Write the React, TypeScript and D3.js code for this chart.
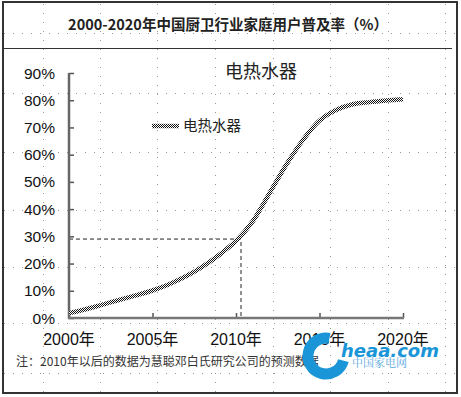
import { useEffect, useRef } from 'react'
import * as d3 from 'd3'

const years = [2000, 2001, 2002, 2003, 2004, 2005, 2006, 2007, 2008, 2009, 2010, 2011, 2012, 2013, 2014, 2015, 2016, 2017, 2018, 2019, 2020]
const penetration = [1.8, 3.2, 4.9, 6.6, 8.3, 10.1, 12.4, 15.3, 18.9, 23.2, 28.3, 35.5, 45.8, 56.2, 65.3, 72.5, 76.4, 78.5, 79.3, 79.9, 80.4]
const yTicks = [0, 10, 20, 30, 40, 50, 60, 70, 80, 90]
const xTicks = [2000, 2005, 2010, 2015, 2020]
const marker = { year: 2010.3, value: 29 }
const seriesName = '电热水器'
const title = '2000-2020年中国厨卫行业家庭用户普及率（%）'
const note = '注：2010年以后的数据为慧聪邓白氏研究公司的预测数据'

// excel sheet gridlines showing through the image
const sheetCols = [43, 100, 157, 215, 273, 330, 388, 445]
const sheetRows = [33, 93, 152, 210, 267, 323, 373]

const W = 461
const H = 397
const FONT = '"Liberation Sans", Arial, "Noto Sans CJK SC", sans-serif'
const CJK = '"Noto Sans CJK SC", sans-serif'

export default function App() {
  const svgRef = useRef<SVGSVGElement>(null)

  useEffect(() => {
    document.body.style.margin = '0'
    const svg = d3.select(svgRef.current!)
    svg.selectAll('*').remove()

    const x = d3.scaleLinear().domain([2000, 2020]).range([69, 403])
    const y = d3.scaleLinear().domain([0, 90]).range([318, 73])

    svg.append('rect').attr('width', W).attr('height', H).style('fill', '#fff')

    // hatch pattern for the series line
    const defs = svg.append('defs')
    const pat = defs.append('pattern')
      .attr('id', 'hatch').attr('width', 2).attr('height', 2)
      .attr('patternUnits', 'userSpaceOnUse')
    pat.append('rect').attr('width', 2).attr('height', 2).style('fill', '#fff')
    pat.append('rect').attr('width', 1).attr('height', 1).style('fill', '#111')
    pat.append('rect').attr('x', 1).attr('y', 1).attr('width', 1).attr('height', 1).style('fill', '#111')

    // sheet dots
    const dots = svg.append('g').style('stroke', '#9a9a9a').style('stroke-width', 1).style('stroke-dasharray', '1 8')
    sheetCols.forEach(c => dots.append('line').attr('x1', c + 0.5).attr('x2', c + 0.5).attr('y1', 4).attr('y2', 392))
    sheetRows.forEach(r => dots.append('line').attr('x1', 4).attr('x2', 456).attr('y1', r + 0.5).attr('y2', r + 0.5))

    // frame
    svg.append('rect').attr('x', 3).attr('y', 2).attr('width', 454).attr('height', 391)
      .style('fill', 'none').style('stroke', '#333').style('stroke-width', 2)
    svg.append('line').attr('x1', 3).attr('x2', 452).attr('y1', 48.5).attr('y2', 48.5)
      .style('stroke', '#333').style('stroke-width', 1)

    svg.append('text').attr('x', 228).attr('y', 30).attr('text-anchor', 'middle')
      .style('font-family', CJK).style('font-weight', 'bold').style('font-size', '14.5px').style('fill', '#222')
      .text(title)

    // dashed marker
    const mx = x(marker.year)
    const my = y(marker.value)
    svg.append('path').attr('d', `M${x(2000)},${my}H${mx}V${y(0)}`)
      .style('fill', 'none').style('stroke', '#222').style('stroke-width', 1).style('stroke-dasharray', '4 3')

    // axes
    const yAxis = svg.append('g').attr('transform', `translate(${x(2000)},0)`)
      .call(d3.axisRight(y).tickValues(yTicks).tickSize(5).tickFormat(() => ''))
    const xAxis = svg.append('g').attr('transform', `translate(0,${y(0)})`)
      .call(d3.axisTop(x).tickValues(xTicks).tickSize(5).tickFormat(() => ''))
    ;[yAxis, xAxis].forEach(a => {
      a.select('.domain').remove()
      a.selectAll('.tick line').style('stroke', '#555').style('stroke-width', 1.5)
    })
    svg.append('line').attr('x1', x(2000)).attr('x2', x(2000)).attr('y1', y(90)).attr('y2', y(0) + 1)
      .style('stroke', '#666').style('stroke-width', 2.5)
    svg.append('line').attr('x1', x(2000) - 1).attr('x2', x(2020) + 1).attr('y1', y(0)).attr('y2', y(0))
      .style('stroke', '#777').style('stroke-width', 2.5)

    svg.append('g').selectAll('text').data(yTicks).join('text')
      .attr('x', 55).attr('y', d => y(d) + 5.5).attr('text-anchor', 'end')
      .style('font-family', FONT).style('font-size', '15.5px').style('fill', '#111')
      .text(d => `${d}%`)
    svg.append('g').selectAll('text').data(xTicks).join('text')
      .attr('x', d => x(d)).attr('y', 345).attr('text-anchor', 'middle')
      .style('font-family', FONT).style('font-size', '16px').style('fill', '#111')
      .text(d => `${d}年`)

    // series
    const pts = years.map((yr, i) => [yr, penetration[i]] as [number, number])
    const line = d3.line<[number, number]>().x(d => x(d[0])).y(d => y(d[1])).curve(d3.curveCatmullRom.alpha(0.5))
    svg.append('path').datum(pts).attr('d', line)
      .style('fill', 'none').style('stroke', 'url(#hatch)').style('stroke-width', 4.5)

    // chart title + legend
    svg.append('text').attr('x', 225).attr('y', 78)
      .style('font-family', CJK).style('font-size', '18px').style('fill', '#222').text(seriesName)
    svg.append('line').attr('x1', 152).attr('x2', 179).attr('y1', 126).attr('y2', 126)
      .style('stroke', 'url(#hatch)').style('stroke-width', 4.5)
    svg.append('text').attr('x', 183).attr('y', 131)
      .style('font-family', CJK).style('font-size', '14.5px').style('fill', '#222').text(seriesName)

    svg.append('text').attr('x', 16).attr('y', 366)
      .style('font-family', CJK).style('font-size', '12px').style('fill', '#333').text(note)

    // watermark
    const wm = svg.append('g')
    wm.append('circle').attr('cx', 326).attr('cy', 356).attr('r', 18)
      .style('fill', 'none').style('stroke', '#1a96d8').style('stroke-width', 11)
      .style('stroke-dasharray', '83 30').attr('transform', 'rotate(15 326 356)')
    wm.append('text').attr('x', 341).attr('y', 357)
      .style('font-family', '"DejaVu Sans", sans-serif').style('font-weight', 'bold').style('font-style', 'italic')
      .style('font-size', '18px').style('fill', '#1a96d8').text('heaa.com')
    wm.append('text').attr('x', 352).attr('y', 367)
      .style('font-family', '"Noto Serif CJK SC", serif').style('font-size', '11px').style('fill', '#5aa9e0').text('中国家电网')
  }, [])

  return <svg ref={svgRef} width={W} height={H} style={{ display: 'block' }} />
}
